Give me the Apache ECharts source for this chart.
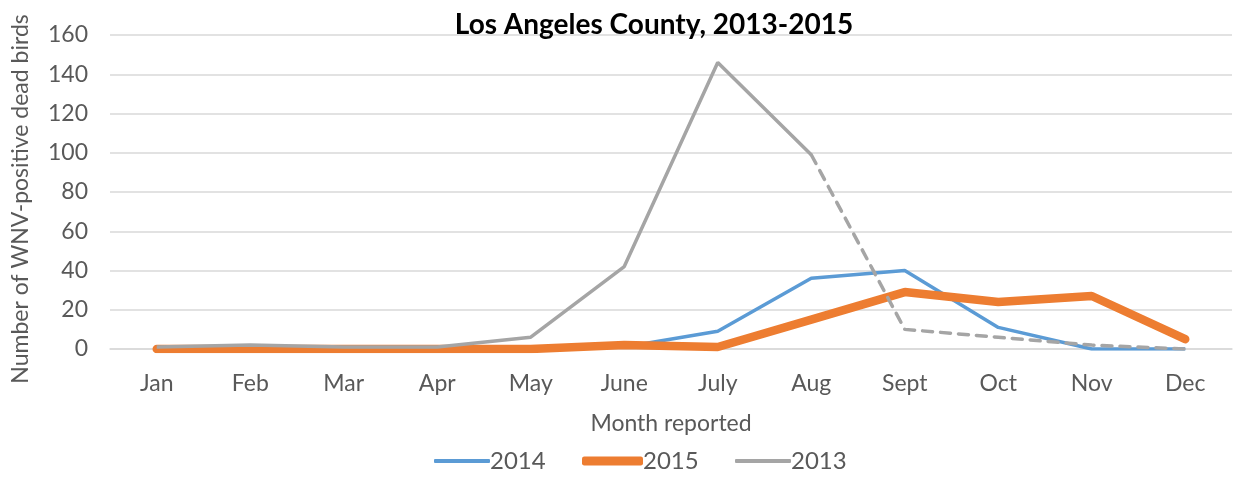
<!DOCTYPE html>
<html>
<head>
<meta charset="utf-8">
<script src="https://cdn.jsdelivr.net/npm/echarts@6/dist/echarts.min.js"></script>
<style>
	html, body { margin: 0; padding: 0; background: #fff; }
	#chart { width: 1241px; height: 478px; }
</style>
</head>
<body>
<div id="chart"></div>
<script>
// months on the x axis
const months = ["Jan", "Feb", "Mar", "Apr", "May", "June", "July", "Aug", "Sept", "Oct", "Nov", "Dec"];
// dead birds per month
const y2014 = [0, 1, 1, 1, 1, 1, 9, 36, 40, 11, 0, 0];
const y2015 = [0, 0, 0, 0, 0, 2, 1, 15, 29, 24, 27, 5];
// 2013: solid part Jan-Aug, dashed part Aug-Dec
const y2013 = [1, 2, 1, 1, 6, 42, 146, 99, null, null, null, null];
const y2013Dashed = [null, null, null, null, null, null, null, 99, 10, 6, 2, 0];

const font = "Lato, 'Open Sans', sans-serif";
const textColor = "#595959";

// one legend per series so each icon gets its own thickness
function legendFor(name, left, width, height) {
	return {
		data: [{ name: name, icon: "roundRect" }],
		left: left,
		top: 449,
		padding: 0,
		itemWidth: width,
		itemHeight: height,
		textStyle: { fontFamily: font, fontSize: 24, color: textColor, padding: [0, 0, 0, -5] },
	};
}

const chart = echarts.init(document.getElementById("chart"));
chart.setOption({
	backgroundColor: "#fff",
	animation: false,
	title: {
		text: "Los Angeles County, 2013-2015",
		left: 649,
		top: 6,
		textAlign: "center",
		textStyle: { fontFamily: font, fontSize: 28, fontWeight: "bold", color: "#000" },
	},
	legend: [
		legendFor("2014", 434, 56, 4),
		legendFor("2015", 582, 61, 9),
		legendFor("2013", 735, 56, 4),
	],
	grid: { left: 110, right: 9, top: 35, bottom: 129, containLabel: false, outerBoundsMode: "none" },
	xAxis: {
		type: "category",
		data: months,
		boundaryGap: true,
		name: "Month reported",
		nameLocation: "middle",
		nameGap: 63,
		nameTextStyle: { fontFamily: font, fontSize: 23, color: textColor },
		axisLine: { lineStyle: { color: "#d9d9d9", width: 1.5 } },
		axisTick: { show: false },
		axisLabel: { fontFamily: font, fontSize: 23, color: textColor, margin: 23 },
	},
	yAxis: {
		type: "value",
		min: 0,
		max: 160,
		interval: 20,
		name: "Number of WNV-positive dead birds",
		nameLocation: "middle",
		nameGap: 78,
		nameTextStyle: { fontFamily: font, fontSize: 23, color: textColor, padding: [0, 14, 0, 0] },
		axisLine: { show: false },
		axisTick: { show: false },
		axisLabel: { fontFamily: font, fontSize: 23, color: textColor, margin: 22 },
		splitLine: { lineStyle: { color: "#d9d9d9", width: 1.5 } },
	},
	series: [
		{
			name: "2014",
			type: "line",
			data: y2014,
			symbol: "none",
			lineStyle: { color: "#5B9BD5", width: 3.5 },
			itemStyle: { color: "#5B9BD5" },
		},
		{
			name: "2015",
			type: "line",
			data: y2015,
			symbol: "none",
			lineStyle: { color: "#ED7D31", width: 8.5, cap: "round" },
			itemStyle: { color: "#ED7D31" },
		},
		{
			name: "2013",
			type: "line",
			data: y2013,
			symbol: "none",
			lineStyle: { color: "#A5A5A5", width: 3.5 },
			itemStyle: { color: "#A5A5A5" },
		},
		{
			name: "2013",
			type: "line",
			data: y2013Dashed,
			symbol: "none",
			lineStyle: { color: "#A5A5A5", width: 3.5, type: [10, 8], cap: "round" },
			itemStyle: { color: "#A5A5A5" },
		},
	],
});
</script>
</body>
</html>
